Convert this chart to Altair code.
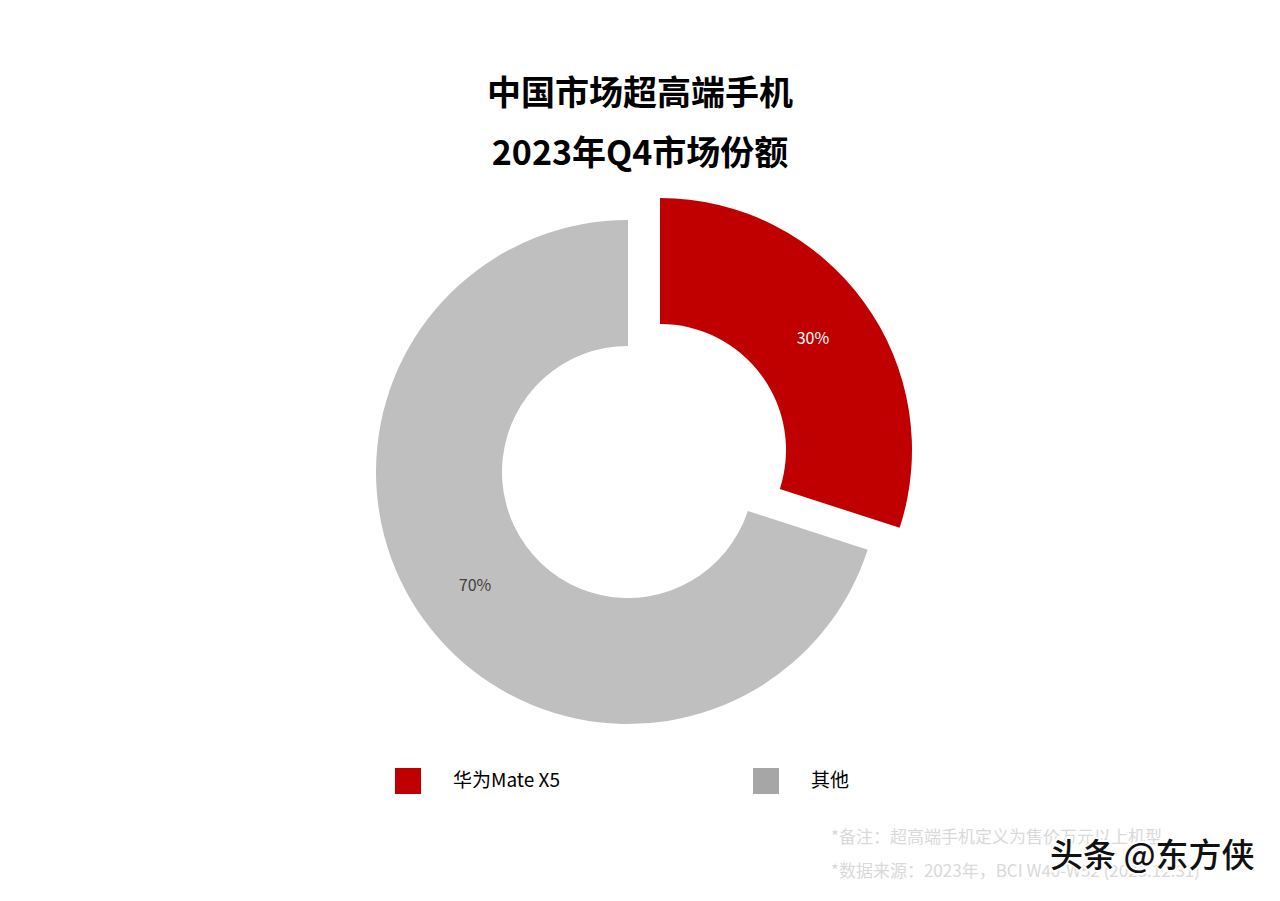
import math
import altair as alt
import pandas as pd

# ---- data ----
brands = ["华为Mate X5", "其他"]
shares = [30, 70]
share_labels = ["30%", "70%"]
title_lines = ["中国市场超高端手机", "2023年Q4市场份额"]
note_lines = ["*备注：超高端手机定义为售价万元以上机型",
              "*数据来源：2023年，BCI W40-W52 (2023.12.31)"]
watermark = ["头条 @东方侠"]

FONT = "Noto Sans CJK SC"
RED = "#C00000"
PIE_GRAY = "#BFBFBF"
LEGEND_GRAY = "#A6A6A6"

df = pd.DataFrame({"brand": brands, "share": shares, "label": share_labels})

base = (
    alt.Chart(df)
    .transform_joinaggregate(total="sum(share)")
    .transform_window(cum="sum(share)", frame=[None, 0])
    .transform_calculate(
        f0="(datum.cum - datum.share) / datum.total",
        f1="datum.cum / datum.total",
        fm="(datum.cum - datum.share / 2) / datum.total",
    )
)

theta_scale = alt.Scale(domain=[0, 1], range=[0, 2 * math.pi])

GRAY_C = (620, 464)
RED_C = (652, 442)
R_OUT, R_IN = 252, 126
R_LABEL = 189

red_arc = (
    base.transform_filter(alt.datum.brand == brands[0])
    .mark_arc(x=RED_C[0], y=RED_C[1], outerRadius=R_OUT, innerRadius=R_IN)
    .encode(
        theta=alt.Theta("f0:Q", scale=theta_scale),
        theta2="f1:Q",
        color=alt.Color(
            "brand:N",
            scale=alt.Scale(domain=brands, range=[RED, LEGEND_GRAY]),
            legend=alt.Legend(
                title=None,
                orient="none",
                legendX=387,
                legendY=760,
                direction="horizontal",
                symbolType="square",
                symbolSize=676,
                symbolStrokeWidth=0,
                symbolOpacity=1,
                labelFont=FONT,
                labelFontSize=19,
                labelColor="#000000",
                labelOffset=32,
                columnPadding=193,
                padding=0,
            ),
        ),
    )
)

gray_arc = (
    base.transform_filter(alt.datum.brand == brands[1])
    .mark_arc(x=GRAY_C[0], y=GRAY_C[1], outerRadius=R_OUT, innerRadius=R_IN)
    .encode(
        theta=alt.Theta("f0:Q", scale=theta_scale),
        theta2="f1:Q",
        color=alt.Color(
            "brand:N",
            scale=alt.Scale(domain=brands, range=[RED, PIE_GRAY]),
            legend=None,
        ),
    )
)

red_label = (
    base.transform_filter(alt.datum.brand == brands[0])
    .mark_text(x=RED_C[0], y=RED_C[1], radius=R_LABEL, font=FONT,
               fontSize=16, color="#FFFFFF")
    .encode(theta=alt.Theta("fm:Q", scale=theta_scale), text="label:N")
)

gray_label = (
    base.transform_filter(alt.datum.brand == brands[1])
    .mark_text(x=GRAY_C[0], y=GRAY_C[1], radius=R_LABEL, font=FONT,
               fontSize=16, color="#404040", dy=3)
    .encode(theta=alt.Theta("fm:Q", scale=theta_scale), text="label:N")
)

title = (
    alt.Chart(pd.DataFrame({"t": ["\n".join(title_lines)]}))
    .mark_text(font=FONT, fontSize=34, fontWeight="bold", color="#000000",
               lineBreak="\n", lineHeight=60, align="center", baseline="middle")
    .encode(text="t:N", x=alt.value(632), y=alt.value(87))
)

notes = (
    alt.Chart(pd.DataFrame({"t": ["\n".join(note_lines)]}))
    .mark_text(font=FONT, fontSize=17, color="#D9D9D9",
               lineBreak="\n", lineHeight=34, align="left", baseline="middle")
    .encode(text="t:N", x=alt.value(823), y=alt.value(830))
)

wm_df = pd.DataFrame({"t": watermark})
wm_halo = (
    alt.Chart(wm_df)
    .mark_text(font=FONT, fontSize=33, fontWeight=500, color="#FFFFFF",
               stroke="#FFFFFF", strokeWidth=4, align="left", baseline="middle")
    .encode(text="t:N", x=alt.value(1042), y=alt.value(849))
)
wm_text = (
    alt.Chart(wm_df)
    .mark_text(font=FONT, fontSize=33, fontWeight=500, color="#111111",
               align="left", baseline="middle")
    .encode(text="t:N", x=alt.value(1042), y=alt.value(849))
)

chart = (
    alt.layer(gray_arc, red_arc, gray_label, red_label, title, notes,
              wm_halo, wm_text)
    .resolve_scale(color="independent", theta="shared")
    .properties(width=1264, height=885, padding=0,
                autosize=alt.AutoSizeParams(type="none"))
    .configure_view(stroke=None)
)

chart.save("out.html", embed_options={"renderer": "svg", "actions": False})
